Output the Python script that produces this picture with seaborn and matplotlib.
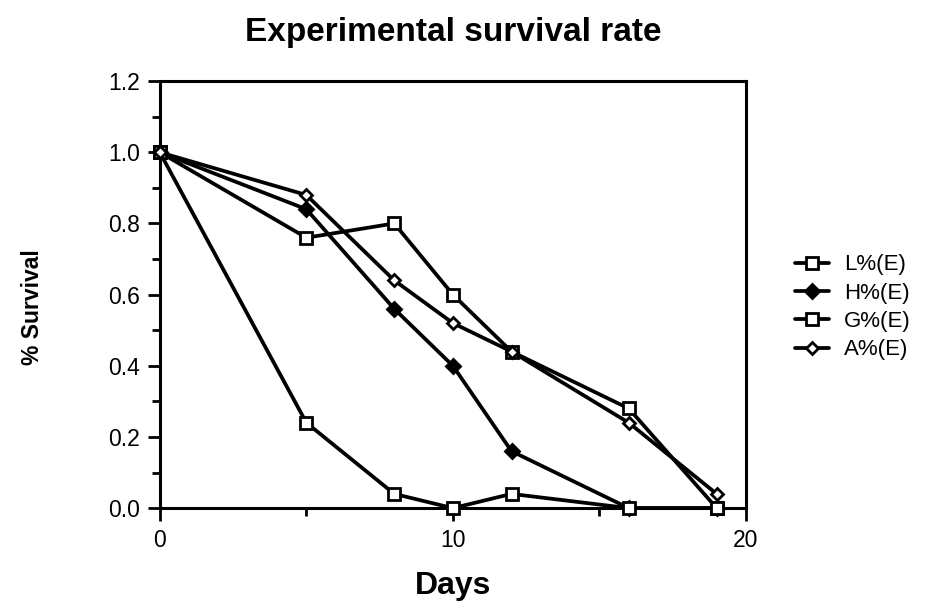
import matplotlib
matplotlib.use("Agg")
import matplotlib.pyplot as plt
from matplotlib.ticker import MultipleLocator, FormatStrFormatter
import seaborn as sns
import pandas as pd

days = [0, 5, 8, 10, 12, 16, 19]
L = [1.0, 0.76, 0.80, 0.60, 0.44, 0.28, 0.0]
H = [1.0, 0.84, 0.56, 0.40, 0.16, 0.0, 0.0]
G = [1.0, 0.24, 0.04, 0.0, 0.04, 0.0, 0.0]
A = [1.0, 0.88, 0.64, 0.52, 0.44, 0.24, 0.04]
series_names = ["L%(E)", "H%(E)", "G%(E)", "A%(E)"]

rows = []
for name, vals in zip(series_names, [L, H, G, A]):
    for d, v in zip(days, vals):
        rows.append({"Days": d, "Survival": v, "Series": name})
df = pd.DataFrame(rows)

sns.set_style("white")
plt.rcParams["font.family"] = ["Liberation Sans", "DejaVu Sans"]
plt.rcParams["text.color"] = "black"
plt.rcParams["axes.labelcolor"] = "black"
plt.rcParams["xtick.color"] = "black"
plt.rcParams["ytick.color"] = "black"

fig = plt.figure(figsize=(9.29, 6.10), dpi=100)
ax = fig.add_axes([0.172, 0.167, 0.631, 0.700])

styles = {
    "L%(E)": dict(marker="s", mfc="white", ms=8),
    "H%(E)": dict(marker="D", mfc="black", ms=7),
    "G%(E)": dict(marker="s", mfc="white", ms=8),
    "A%(E)": dict(marker="D", mfc="white", ms=6.5),
}
for name in series_names:
    sub = df[df["Series"] == name]
    st = styles[name]
    sns.lineplot(data=sub, x="Days", y="Survival", ax=ax, color="black",
                 linewidth=2.7, marker=st["marker"], markersize=st["ms"],
                 markerfacecolor=st["mfc"], markeredgecolor="black",
                 markeredgewidth=2.0, label=name, clip_on=False, zorder=3)

ax.set_xlim(0, 20)
ax.set_ylim(0, 1.2)
ax.xaxis.set_major_locator(MultipleLocator(10))
ax.xaxis.set_minor_locator(MultipleLocator(5))
ax.yaxis.set_major_locator(MultipleLocator(0.2))
ax.yaxis.set_minor_locator(MultipleLocator(0.1))
ax.yaxis.set_major_formatter(FormatStrFormatter("%.1f"))
for s in ax.spines.values():
    s.set_visible(True)
    s.set_color("black")
    s.set_linewidth(2.2)
ax.tick_params(axis="both", which="both", bottom=True, left=True, top=False, right=False)
ax.tick_params(axis="both", which="major", direction="out", length=9, width=2,
               labelsize=16.5, colors="black", pad=5)
ax.tick_params(axis="both", which="minor", direction="out", length=5.5, width=2, colors="black")
ax.tick_params(axis="x", which="major", pad=6)

ax.set_xlabel("Days", fontsize=23, fontweight="bold", labelpad=14)
ax.set_ylabel("% Survival", fontsize=16.5, fontweight="bold")
ax.yaxis.set_label_coords(-0.198, 0.47)
ax.set_title("Experimental survival rate", fontsize=24, fontweight="bold", pad=29)

leg = ax.legend(loc="center left", bbox_to_anchor=(1.05, 0.47), frameon=False,
                fontsize=16, handlelength=1.5, labelspacing=0.33, handletextpad=0.7)

fig.savefig("out.png", dpi=100, facecolor="white")
